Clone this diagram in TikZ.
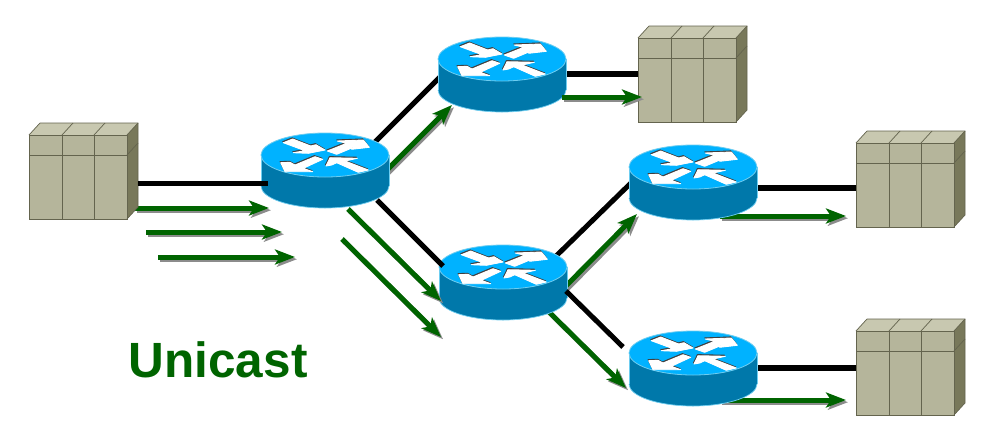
\documentclass[tikz,border=0pt]{standalone}
\usepackage{fontspec}
\setmainfont{Liberation Sans}
\usetikzlibrary{arrows.meta,calc}
\definecolor{rtop}{RGB}{0,178,255}
\definecolor{rside}{RGB}{0,120,170}
\definecolor{rrim}{RGB}{110,205,240}
\definecolor{sfront}{RGB}{181,181,155}
\definecolor{stop}{RGB}{200,200,176}
\definecolor{sside}{RGB}{120,120,90}
\definecolor{sline}{RGB}{100,100,78}
\definecolor{flowgreen}{RGB}{0,100,0}
\definecolor{flowgray}{RGB}{140,140,140}
\tikzset{
  anchorbox/.style={inner sep=0pt,minimum size=0pt},
  wire/.style={black,line width=5pt},
  thickwire/.style={black,line width=6.5pt},
  flowline/.style={flowgreen,line width=5pt,-{Stealth[length=20pt,width=15pt,inset=5pt]}},
  flowshade/.style={flowgray,line width=5pt,-{Stealth[length=20pt,width=15pt,inset=5pt]}},
  whitearrow/.style={fill=white,draw=white,line width=0.9pt,line join=round},
  arrowedge/.style={fill=black!75,draw=black!75,line width=0.9pt,line join=round},
  title/.style={flowgreen,font=\fontsize{49.5}{50}\selectfont\bfseries,anchor=base west,inner sep=0pt}
}
\newcommand{\flowarrow}[2]{%
  \draw[flowshade] ($(#1)+(2,2.2)$) -- ($(#2)+(2,2.2)$);
  \draw[flowline] (#1) -- (#2);}
\newcommand{\arrowA}{(-41.7,-12.3) -- (-32.3,-16) -- (-14.3,-9) -- (-9,-10.3) -- (0,-5) -- (-16.7,-1.7) -- (-31.7,-2.3) -- (-20,-4.3) -- cycle}
\newcommand{\arrowB}{(44.3,-7.7) -- (38.3,-15) -- (12.3,-14) -- (21.7,-11.7) -- (2.3,-4) -- (11.7,-0.7) -- (30,-8.3) -- (26.7,-5.7) -- cycle}
\newcommand{\arrowC}{(-2.3,4.3) -- (-10,1.7) -- (-30,10) -- (-35,7.3) -- (-44.3,7.7) -- (-40,16.7) -- (-12.3,16.7) -- (-21.7,13.3) -- cycle}
\newcommand{\arrowD}{(1,11) -- (5,2.7) -- (32.3,3.3) -- (20,6) -- (43.3,15) -- (33.3,17.3) -- (11.7,7.7) -- (6.7,10) -- cycle}
\newcommand{\routerbody}[1]{%
  \begin{scope}[shift={(#1.center)}]
    \fill[rside] (-64,0) -- (-64,31) arc[start angle=180,end angle=360,x radius=64pt,y radius=22pt] -- (64,0) -- cycle;
    \draw[rrim,line width=0.7pt] (-64,31) arc[start angle=180,end angle=360,x radius=64pt,y radius=22pt];
    \draw[rrim,line width=0.7pt] (-64,0) -- (-64,31) (64,0) -- (64,31);
    \fill[rtop] (0,0) ellipse[x radius=64pt,y radius=22pt];
    \draw[rrim,line width=0.8pt] (0,0) ellipse[x radius=64pt,y radius=22pt];
    \begin{scope}[shift={(-0.6,-1.1)}]
      \path[arrowedge] \arrowA; \path[arrowedge] \arrowB; \path[arrowedge] \arrowC; \path[arrowedge] \arrowD;
    \end{scope}
    \path[whitearrow] \arrowA; \path[whitearrow] \arrowB; \path[whitearrow] \arrowC; \path[whitearrow] \arrowD;
  \end{scope}}
\newcommand{\serverbody}[1]{%
  \begin{scope}[shift={(#1.center)}]
    \fill[stop] (-49,-42) -- (-38,-54) -- (60,-54) -- (49,-42) -- cycle;
    \fill[sside] (49,-42) -- (60,-54) -- (60,30) -- (49,42) -- cycle;
    \fill[sfront] (-49,-42) rectangle (49,42);
    \draw[sline,line width=0.7pt] (-49,-42) -- (-38,-54) -- (60,-54) -- (60,30) -- (49,42);
    \draw[sline,line width=0.7pt] (49,-42) -- (60,-54) (-16,-42) -- (-5,-54) (16,-42) -- (27,-54) (49,-22) -- (60,-34);
    \draw[sline,line width=1pt] (-49,-42) rectangle (49,42);
    \draw[sline,line width=1pt] (-49,-22) -- (49,-22) (-16,-42) -- (-16,42) (16,-42) -- (16,42);
  \end{scope}}
\begin{document}
\begin{tikzpicture}[x=1pt,y=-1pt]
\useasboundingbox (0,0) rectangle (997,440);
\fill[white] (0,0) rectangle (997,440);
% anchors of the devices
\node[anchorbox] (r1) at (325,155) {};
\node[anchorbox] (r2) at (502,59) {};
\node[anchorbox] (r3) at (503,267) {};
\node[anchorbox] (r4) at (693,167) {};
\node[anchorbox] (r5) at (693,353) {};
\node[anchorbox] (s1) at (78,177) {};
\node[anchorbox] (s2) at (687,80) {};
\node[anchorbox] (s3) at (905,185) {};
\node[anchorbox] (s4) at (905,373) {};
% free ends of the connectors
\coordinate (w1a) at (138,183); \coordinate (w1b) at (268,183);
\coordinate (w2a) at (372,145); \coordinate (w2b) at (442,75);
\coordinate (w3a) at (377,200); \coordinate (w3b) at (443,266);
\coordinate (w4a) at (552,260); \coordinate (w4b) at (634,180);
\coordinate (w5a) at (566,291); \coordinate (w5b) at (623,347);
\coordinate (w6a) at (560,74); \coordinate (w6b) at (640,74);
\coordinate (w7a) at (750,188); \coordinate (w7b) at (857,188);
\coordinate (w8a) at (750,368); \coordinate (w8b) at (857,368);
\coordinate (f1a) at (135,208); \coordinate (f1b) at (269,208);
\coordinate (f2a) at (146,232); \coordinate (f2b) at (282,232);
\coordinate (f3a) at (158,257); \coordinate (f3b) at (295,257);
\coordinate (f4a) at (380,177); \coordinate (f4b) at (452,105);
\coordinate (f5a) at (348,209); \coordinate (f5b) at (441,301);
\coordinate (f6a) at (342,239); \coordinate (f6b) at (441,337);
\coordinate (f7a) at (562,97); \coordinate (f7b) at (642,97);
\coordinate (f8a) at (560,292); \coordinate (f8b) at (637,214);
\coordinate (f9a) at (545,308); \coordinate (f9b) at (626,388);
\coordinate (f10a) at (720,216); \coordinate (f10b) at (846,216);
\coordinate (f11a) at (720,400); \coordinate (f11b) at (846,400);
% connectors behind the devices
\draw[wire] (w2a) -- (w2b);
\draw[wire] (w4a) -- (w4b);
\draw[thickwire] (w6a) -- (w6b);
\draw[thickwire] (w7a) -- (w7b);
\draw[thickwire] (w8a) -- (w8b);
\flowarrow{f1a}{f1b}
\flowarrow{f4a}{f4b}
\flowarrow{f8a}{f8b}
\flowarrow{f9a}{f9b}
\flowarrow{f10a}{f10b}
\flowarrow{f11a}{f11b}
% devices
\routerbody{r1}
\routerbody{r2}
\routerbody{r3}
\routerbody{r4}
\routerbody{r5}
\serverbody{s1}
\serverbody{s2}
\serverbody{s3}
\serverbody{s4}
% connectors in front of the devices
\draw[wire] (w1a) -- (w1b);
\draw[wire] (w3a) -- (w3b);
\draw[wire] (w5a) -- (w5b);
\flowarrow{f2a}{f2b}
\flowarrow{f3a}{f3b}
\flowarrow{f5a}{f5b}
\flowarrow{f6a}{f6b}
\flowarrow{f7a}{f7b}
\node[title] (t) at (128.5,377) {Unicast};
\end{tikzpicture}
\end{document}
